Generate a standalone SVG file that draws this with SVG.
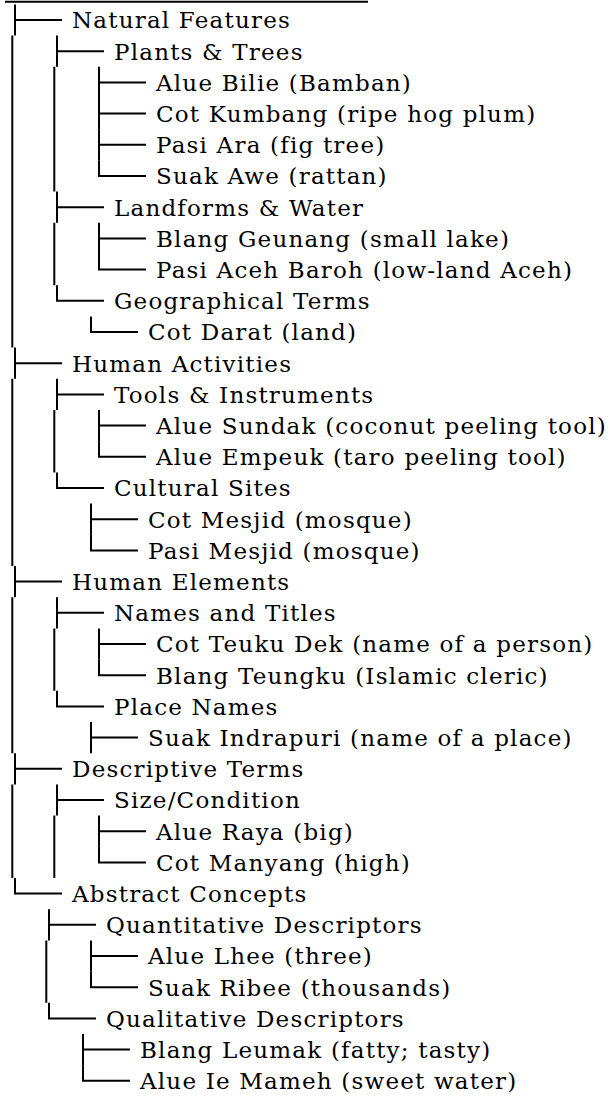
<svg xmlns="http://www.w3.org/2000/svg" width="610" height="1100" viewBox="0 0 610 1100">
<style>
.t{font-family:"DejaVu Serif","Liberation Serif",serif;font-size:23px;letter-spacing:1.2px;fill:#000}
.c{fill:none;stroke:#000;stroke-width:2}
</style>
<rect width="610" height="1100" fill="#fff"/>
<path class="c" d="M5 1.7H368"/>
<g id="connectors" class="c">
<path d="M12.3 35.6V347.6M12.3 378.8V566M12.3 597.2V753.2M12.3 784.4V878"/>
<path d="M54.3 66.8V191.6M54.3 222.8V285.2M54.3 410V472.4M54.3 628.4V690.8M54.3 815.6V878M46.3 940.4V1002.8"/>
<path d="M15 4.4V35.6M15 20H62"/>
<path d="M57 35.6V66.8M57 51.2H104"/>
<path d="M99 66.8V98M99 82.4H146"/>
<path d="M99 98V129.2M99 113.6H146"/>
<path d="M99 129.2V160.4M99 144.8H146"/>
<path d="M99 160.4V177M99 176H146"/>
<path d="M57 191.6V222.8M57 207.2H104"/>
<path d="M99 222.8V254M99 238.4H146"/>
<path d="M99 254V270.6M99 269.6H146"/>
<path d="M57 285.2V301.8M57 300.8H104"/>
<path d="M91 316.4V333M91 332H138"/>
<path d="M15 347.6V378.8M15 363.2H62"/>
<path d="M57 378.8V410M57 394.4H104"/>
<path d="M99 410V441.2M99 425.6H146"/>
<path d="M99 441.2V457.8M99 456.8H146"/>
<path d="M57 472.4V489M57 488H104"/>
<path d="M91 503.6V534.8M91 519.2H138"/>
<path d="M91 534.8V551.4M91 550.4H138"/>
<path d="M15 566V597.2M15 581.6H62"/>
<path d="M57 597.2V628.4M57 612.8H104"/>
<path d="M99 628.4V659.6M99 644H146"/>
<path d="M99 659.6V676.2M99 675.2H146"/>
<path d="M57 690.8V707.4M57 706.4H104"/>
<path d="M91 722V753.2M91 737.6H138"/>
<path d="M15 753.2V784.4M15 768.8H62"/>
<path d="M57 784.4V815.6M57 800H104"/>
<path d="M99 815.6V846.8M99 831.2H146"/>
<path d="M99 846.8V863.4M99 862.4H146"/>
<path d="M15 878V894.6M15 893.6H62"/>
<path d="M49 909.2V940.4M49 924.8H96"/>
<path d="M91 940.4V971.6M91 956H138"/>
<path d="M91 971.6V988.2M91 987.2H138"/>
<path d="M49 1002.8V1019.4M49 1018.4H96"/>
<path d="M83 1034V1065.2M83 1049.6H130"/>
<path d="M83 1065.2V1081.8M83 1080.8H130"/>
</g>
<g id="n-natural-features"><text class="t" x="72" y="28.3">Natural Features</text></g>
<g id="n-plants-trees"><text class="t" x="114" y="59.5">Plants &amp; Trees</text></g>
<g id="n-alue-bilie"><text class="t" x="156" y="90.7">Alue Bilie (Bamban)</text></g>
<g id="n-cot-kumbang"><text class="t" x="156" y="121.9">Cot Kumbang (ripe hog plum)</text></g>
<g id="n-pasi-ara"><text class="t" x="156" y="153.1">Pasi Ara (fig tree)</text></g>
<g id="n-suak-awe"><text class="t" x="156" y="184.3">Suak Awe (rattan)</text></g>
<g id="n-landforms-water"><text class="t" x="114" y="215.5">Landforms &amp; Water</text></g>
<g id="n-blang-geunang"><text class="t" x="156" y="246.7">Blang Geunang (small lake)</text></g>
<g id="n-pasi-aceh-baroh"><text class="t" x="156" y="277.9">Pasi Aceh Baroh (low-land Aceh)</text></g>
<g id="n-geographical-terms"><text class="t" x="114" y="309.1">Geographical Terms</text></g>
<g id="n-cot-darat"><text class="t" x="148" y="340.3">Cot Darat (land)</text></g>
<g id="n-human-activities"><text class="t" x="72" y="371.5">Human Activities</text></g>
<g id="n-tools-instruments"><text class="t" x="114" y="402.7">Tools &amp; Instruments</text></g>
<g id="n-alue-sundak"><text class="t" x="156" y="433.9">Alue Sundak (coconut peeling tool)</text></g>
<g id="n-alue-empeuk"><text class="t" x="156" y="465.1">Alue Empeuk (taro peeling tool)</text></g>
<g id="n-cultural-sites"><text class="t" x="114" y="496.3">Cultural Sites</text></g>
<g id="n-cot-mesjid"><text class="t" x="148" y="527.5">Cot Mesjid (mosque)</text></g>
<g id="n-pasi-mesjid"><text class="t" x="148" y="558.7">Pasi Mesjid (mosque)</text></g>
<g id="n-human-elements"><text class="t" x="72" y="589.9">Human Elements</text></g>
<g id="n-names-titles"><text class="t" x="114" y="621.1">Names and Titles</text></g>
<g id="n-cot-teuku-dek"><text class="t" x="156" y="652.3">Cot Teuku Dek (name of a person)</text></g>
<g id="n-blang-teungku"><text class="t" x="156" y="683.5">Blang Teungku (Islamic cleric)</text></g>
<g id="n-place-names"><text class="t" x="114" y="714.7">Place Names</text></g>
<g id="n-suak-indrapuri"><text class="t" x="148" y="745.9">Suak Indrapuri (name of a place)</text></g>
<g id="n-descriptive-terms"><text class="t" x="72" y="777.1">Descriptive Terms</text></g>
<g id="n-size-condition"><text class="t" x="114" y="808.3">Size/Condition</text></g>
<g id="n-alue-raya"><text class="t" x="156" y="839.5">Alue Raya (big)</text></g>
<g id="n-cot-manyang"><text class="t" x="156" y="870.7">Cot Manyang (high)</text></g>
<g id="n-abstract-concepts"><text class="t" x="72" y="901.9">Abstract Concepts</text></g>
<g id="n-quantitative"><text class="t" x="106" y="933.1">Quantitative Descriptors</text></g>
<g id="n-alue-lhee"><text class="t" x="148" y="964.3">Alue Lhee (three)</text></g>
<g id="n-suak-ribee"><text class="t" x="148" y="995.5">Suak Ribee (thousands)</text></g>
<g id="n-qualitative"><text class="t" x="106" y="1026.7">Qualitative Descriptors</text></g>
<g id="n-blang-leumak"><text class="t" x="140" y="1057.9">Blang Leumak (fatty; tasty)</text></g>
<g id="n-alue-ie-mameh"><text class="t" x="140" y="1089.1">Alue Ie Mameh (sweet water)</text></g>
</svg>
